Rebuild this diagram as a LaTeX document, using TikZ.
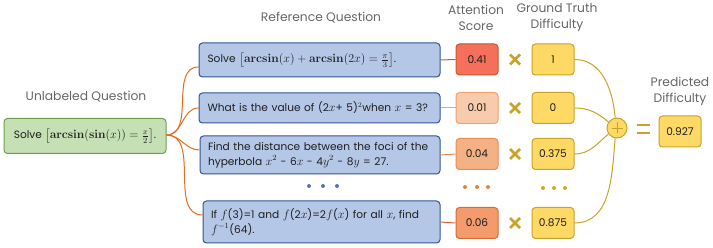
\documentclass[tikz,border=0pt]{standalone}
\usepackage[no-math]{fontspec}
\setmainfont{Poppins}
\usepackage{amsmath}
\usetikzlibrary{calc}
\newcommand\bigmth[1]{{\fontsize{12}{15}\selectfont$#1$}}
\newcommand\mth[1]{{\fontsize{11.6}{15}\selectfont$#1$}}
\begin{document}
\begin{tikzpicture}[x=1pt,y=-1pt,
  lbl/.style={text=black!60, font=\fontsize{12.3}{16}\selectfont, align=center},
  box/.style={rounded corners=3.5pt, line width=1pt, text=black!88, font=\fontsize{10.6}{15}\selectfont, inner sep=0pt},
  qbox/.style={box, fill=qblue, draw=qblueD, text width=224pt, align=left},
  abox/.style={box, minimum width=42pt, minimum height=31pt, align=center},
  tbox/.style={abox, fill=tyel, draw=tyelD},
  oline/.style={draw=ocon, line width=1pt},
  gline/.style={draw=tyelD, line width=1pt},
  crossmark/.style={draw=tyelD, line width=2.6pt},
  ]
\definecolor{qblue}{HTML}{B4C7E7}
\definecolor{qblueD}{HTML}{2F5597}
\definecolor{ggreen}{HTML}{C5E0B4}
\definecolor{ggreenD}{HTML}{6E9E4A}
\definecolor{tyel}{HTML}{FFD966}
\definecolor{tyelD}{HTML}{C9A227}
\definecolor{ocon}{HTML}{E46C1C}
\definecolor{aoneF}{HTML}{F4705A}\definecolor{aoneD}{HTML}{C8572A}
\definecolor{atwoF}{HTML}{F8CBAD}\definecolor{atwoD}{HTML}{F4A070}
\definecolor{athrF}{HTML}{F4B183}\definecolor{athrD}{HTML}{ED8B50}
\definecolor{afouF}{HTML}{F49B6E}\definecolor{afouD}{HTML}{D86A30}
\useasboundingbox (0,0) rectangle (713,248);

% labels
\node[lbl] (lu) at (86,97) {Unlabeled Question};
\node[lbl] (lr) at (321,18) {Reference Question};
\node[lbl] (la) at (476,18) {Attention\\Score};
\node[lbl] (lg) at (557,18) {Ground Truth\\Difficulty};
\node[lbl] (lp) at (680,91.5) {Predicted\\Difficulty};

% unlabeled
\node[box, fill=ggreen, draw=ggreenD, minimum width=162pt, minimum height=35pt] (u) at (85,136)
  {Solve \bigmth{\left[\mathbf{arcsin}(\mathbf{sin}(x))=\frac{x}{2}\right]}.};

% reference questions
\node[qbox, minimum width=241pt, minimum height=34pt] (q1) at (319.5,60)
  {Solve \bigmth{\left[\mathbf{arcsin}(x)+\mathbf{arcsin}(2x)=\frac{\pi}{3}\right]}.};
\node[qbox, minimum width=241pt, minimum height=30pt] (q2) at (319.5,108)
  {What is the value of (2\mth{x}+ 5)$^2$when \mth{x} = 3?};
\node[qbox, minimum width=240pt, minimum height=38pt] (q3) at (320,155)
  {Find the distance between the foci of the\\ hyperbola \mth{x^2} - 6\mth{x} - 4\mth{y^2} - 8\mth{y} = 27.};
\node[qbox, minimum width=237pt, minimum height=42pt, text width=221pt] (q4) at (321.5,222)
  {If \mth{f}(3)=1 and \mth{f}(2\mth{x})=2\mth{f}(\mth{x}) for all \mth{x}, find\\ \mth{f^{-1}}(64).};

% attention
\node[abox, fill=aoneF, draw=aoneD] (a1) at (477,59.5) {0.41};
\node[abox, fill=atwoF, draw=atwoD] (a2) at (477,108) {0.01};
\node[abox, fill=athrF, draw=athrD] (a3) at (477,154) {0.04};
\node[abox, fill=afouF, draw=afouD] (a4) at (477,223) {0.06};

% truth
\node[tbox] (t1) at (553,59.5) {1};
\node[tbox] (t2) at (553,108) {0};
\node[tbox] (t3) at (553,154) {0.375};
\node[tbox] (t4) at (553,223) {0.875};

% times marks
\foreach \yy [count=\i] in {59.5,108,154,223} {
  \coordinate (x\i) at (515,\yy);
  \draw[crossmark] ($(x\i)+(-5,-5)$) -- ($(x\i)+(5,5)$) ($(x\i)+(-5,5)$) -- ($(x\i)+(5,-5)$);
}

% plus, equals, prediction
\node[circle, draw=tyelD, fill=tyel, line width=1pt, minimum size=20pt, inner sep=0pt] (p) at (617,128) {};
\draw[tyelD, line width=0.9pt] ($(p)+(-5.5,0)$) -- ($(p)+(5.5,0)$) ($(p)+(0,-5.5)$) -- ($(p)+(0,5.5)$);
\coordinate (eq) at (643,129);
\draw[tyelD, line width=2.4pt] ($(eq)+(-6.5,-4)$) -- ($(eq)+(6.5,-4)$) ($(eq)+(-6.5,4)$) -- ($(eq)+(6.5,4)$);
\node[tbox] (pd) at (680,131.5) {0.927};

% dots
\foreach \xx in {309,323,337} {\fill[qblueD!80] (\xx,186) circle (2pt);}
\foreach \xx in {465,477,488} {\fill[ocon!85] (\xx,187) circle (2pt);}
\foreach \xx in {543,554,565} {\fill[tyelD!90!yellow] (\xx,188) circle (2pt);}

% connectors
\coordinate (ue) at ($(u.east)+(0,-1)$);
\draw[oline] (ue) to[out=0,in=180] ($(q1.west)+(0,7)$);
\draw[oline] (ue) to[out=0,in=180] (q2.west);
\draw[oline] (ue) to[out=0,in=180] ($(q3.west)+(0,-5)$);
\draw[oline] (ue) to[out=0,in=180] ($(q4.west)+(0,-7)$);
\draw[line width=1pt, draw=aoneD] (q1.east) -- (a1.west);
\draw[line width=1pt, draw=atwoD] (q2.east) -- (a2.west);
\draw[line width=1pt, draw=athrD] (q3.east) -- (a3.west);
\draw[line width=1pt, draw=afouD] (q4.east) -- (a4.west);
\draw[gline] (t1.east) to[out=0,in=95] (p.100);
\draw[gline] (t2.east) to[out=0,in=140] (p.145);
\draw[gline] (t3.east) to[out=0,in=220] (p.215);
\draw[gline] (t4.east) to[out=0,in=-95] (p.260);
\end{tikzpicture}
\end{document}
